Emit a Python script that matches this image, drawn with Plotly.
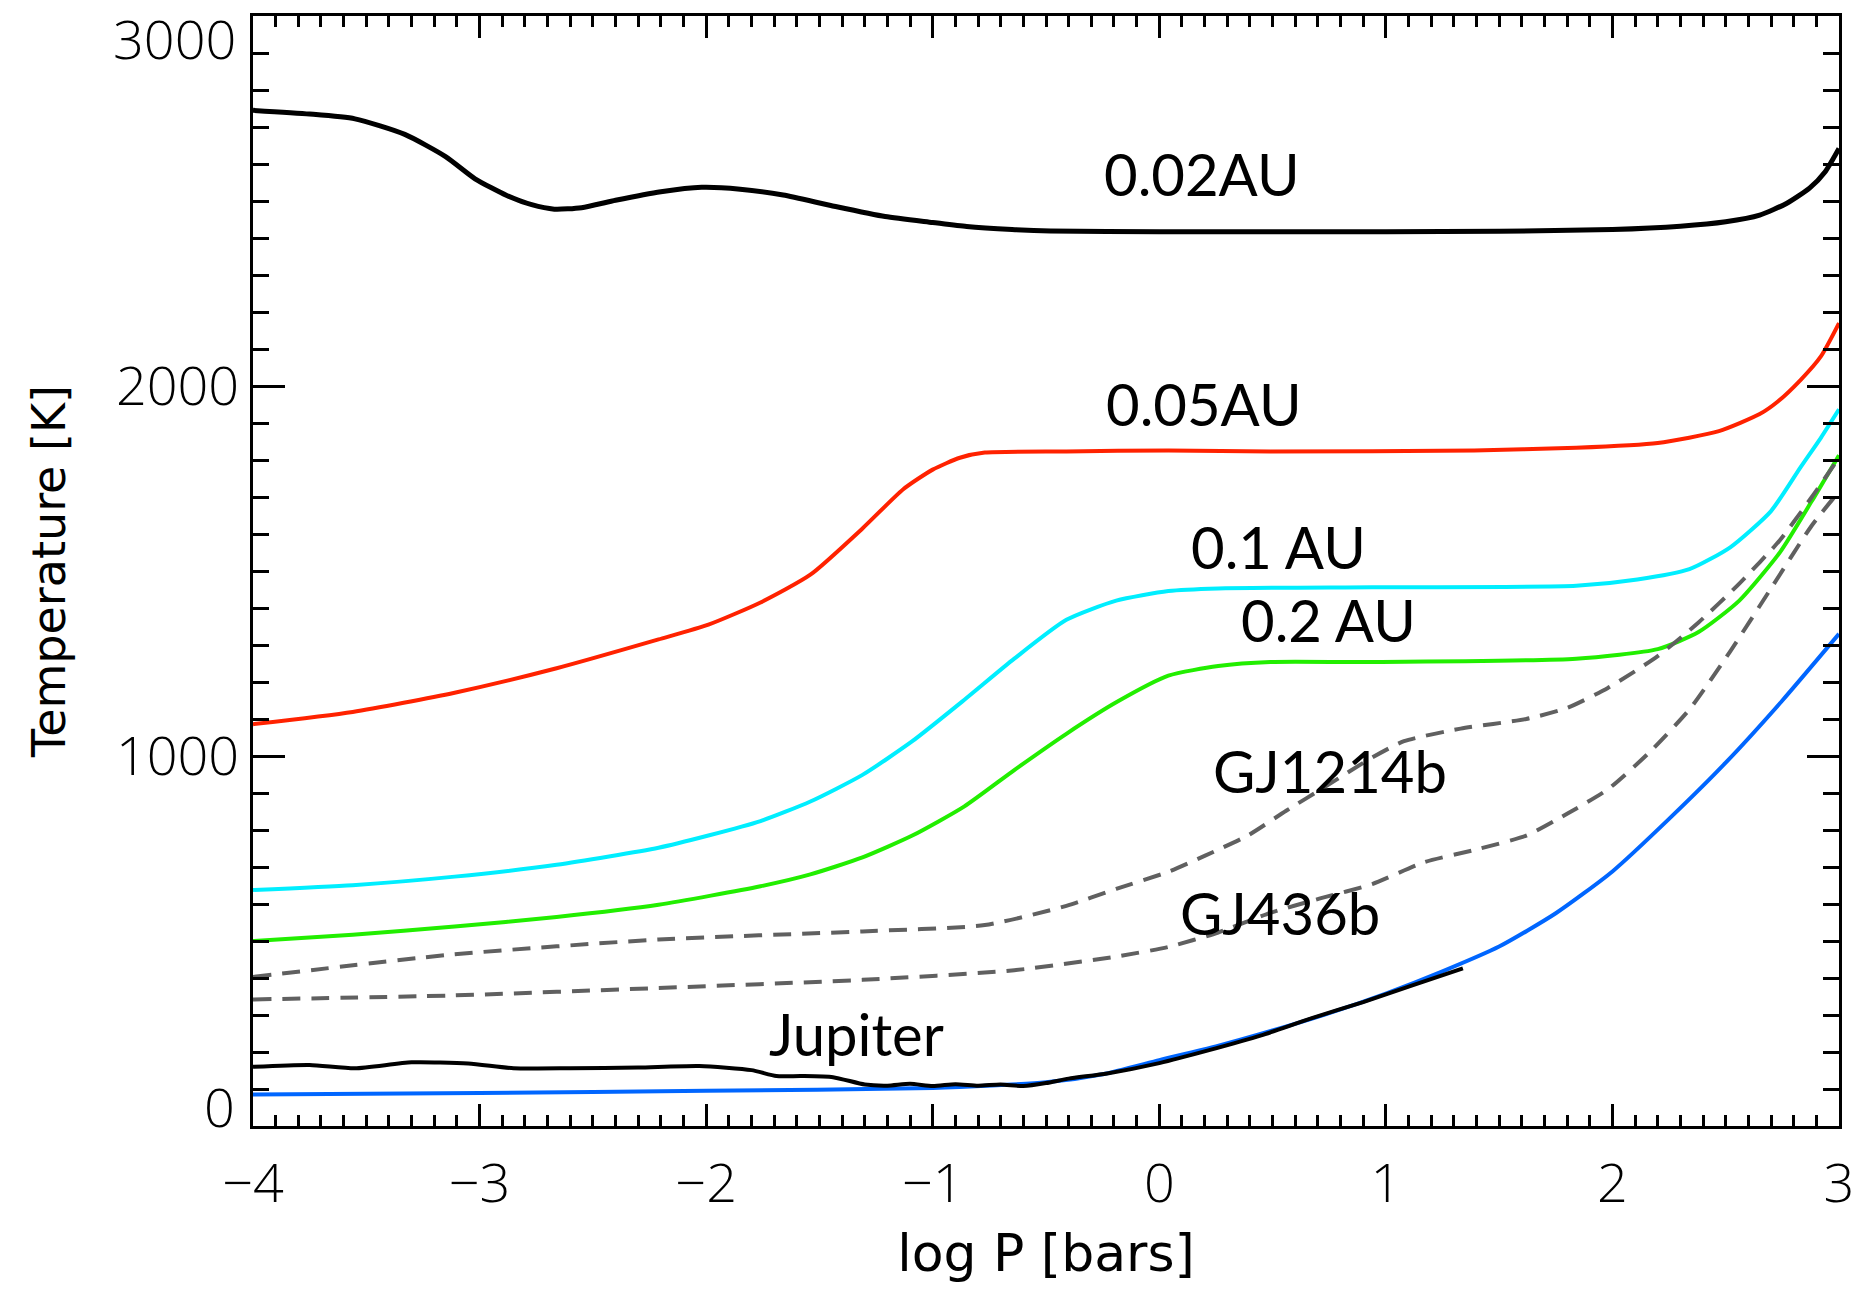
import plotly.graph_objects as go

# ---------------- data (log P [bars] vs Temperature [K]) ----------------
au002_x = [-4, -3.75, -3.55, -3.33, -3.15, -3.02, -2.88, -2.77, -2.67, -2.55, -2.4, -2.2,
           -2.02, -1.85, -1.66, -1.45, -1.21, -1.0, -0.85, -0.65, -0.48, 0, 0.5, 1.0, 1.5,
           2.0, 2.3, 2.5, 2.65, 2.77, 2.87, 2.94, 3.0]
au002_t = [2745, 2735, 2722, 2680, 2620, 2560, 2515, 2490, 2478, 2482, 2502, 2525,
           2537, 2532, 2516, 2488, 2458, 2442, 2431, 2423, 2419, 2417, 2417, 2417, 2418,
           2423, 2432, 2444, 2462, 2494, 2535, 2580, 2642]

au005_x = [-4, -3.56, -3.11, -2.66, -2.21, -1.99, -1.76, -1.54, -1.31, -1.13, -1.0, -0.88,
           -0.77, -0.41, 0.04, 0.49, 1.39, 1.84, 2.2, 2.47, 2.65, 2.73, 2.83, 2.92, 3.0]
au005_t = [1086, 1119, 1171, 1237, 1315, 1355, 1415, 1490, 1615, 1721, 1774, 1806,
           1820, 1823, 1826, 1823, 1826, 1833, 1846, 1878, 1924, 1958, 2016, 2080, 2170]

au01_x = [-4, -3.56, -3.11, -2.66, -2.21, -1.99, -1.76, -1.54, -1.31, -1.09, -0.86, -0.64,
          -0.41, -0.19, 0.04, 0.26, 0.94, 1.84, 2.11, 2.34, 2.52, 2.70, 2.83, 2.92, 3.0]
au01_t = [638, 651, 674, 706, 752, 785, 824, 877, 949, 1040, 1152, 1263,
          1368, 1420, 1446, 1453, 1456, 1460, 1477, 1505, 1564, 1662, 1780, 1860, 1937]

au02_x = [-4, -3.56, -3.11, -2.66, -2.21, -1.76, -1.54, -1.31, -1.09, -0.86, -0.64, -0.41,
          -0.19, 0.04, 0.26, 0.49, 0.94, 1.84, 2.2, 2.38, 2.56, 2.74, 2.88, 3.0]
au02_t = [500, 517, 539, 565, 598, 648, 680, 726, 785, 864, 962, 1060,
          1145, 1217, 1243, 1254, 1254, 1263, 1289, 1335, 1420, 1551, 1689, 1813]

gj1214_x = [-4, -3.11, -2.21, -1.31, -0.77, -0.41, -0.19, 0.04, 0.2, 0.39, 0.56, 0.74,
            0.94, 1.08, 1.33, 1.62, 1.80, 1.98, 2.2, 2.38, 2.56, 2.74, 2.88, 3.0]
gj1214_t = [403, 464, 504, 526, 543, 595, 641, 687, 730, 785, 852, 920,
            996, 1040, 1074, 1100, 1130, 1184, 1270, 1361, 1466, 1584, 1700, 1806]

gj436_x = [-4, -3.11, -2.21, -1.31, -0.64, -0.19, 0.04, 0.26, 0.49, 0.71, 0.94, 1.17,
           1.39, 1.62, 1.80, 1.98, 2.16, 2.34, 2.52, 2.70, 2.88, 3.0]
gj436_t = [342, 353, 373, 395, 421, 458, 484, 523, 576, 615, 654, 713,
           746, 785, 844, 910, 1008, 1126, 1283, 1453, 1623, 1715]

blue_x = [-4, -3, -2, -1, -0.5, -0.25, 0, 0.25, 0.5, 0.75, 1.0, 1.25, 1.5, 1.75,
          2.0, 2.25, 2.5, 2.75, 3.0]
blue_t = [85, 89, 95, 103, 118, 140, 178, 215, 258, 305, 358, 418, 485, 575,
          688, 830, 982, 1150, 1330]

jup_x = [-4, -3.75, -3.55, -3.3, -3.05, -2.85, -2.6, -2.3, -2.03, -1.8, -1.69, -1.58,
         -1.44, -1.3, -1.2, -1.1, -1.0, -0.9, -0.8, -0.7, -0.6, -0.5, -0.4, -0.23, 0.0,
         0.22, 0.45, 0.67, 0.9, 1.12, 1.34]
jup_t = [160, 165, 156, 172, 169, 156, 156, 158, 162, 151, 135, 135,
         132, 112, 109, 114, 108, 113, 109, 112, 108, 116, 128, 142, 170,
         205, 245, 291, 335, 381, 426]

labels = ["0.02AU", "0.05AU", "0.1 AU", "0.2 AU", "GJ1214b", "GJ436b", "Jupiter"]
label_x = [0.188, 0.197, 0.528, 0.748, 0.753, 0.532, -1.335]
label_t = [2573, 1954, 1565, 1368, 962, 578, 251]

x_ticks = [-4, -3, -2, -1, 0, 1, 2, 3]
y_ticks = [0, 1000, 2000, 3000]
y_ticktext = ["", "1000", "2000", ""]

# ---------------- figure ----------------
TICK_FONT = dict(family="Open Sans", size=54, color="black", weight=300)
TITLE_FAMILY = "DejaVu Sans"

fig = go.Figure()
series = [
    (au002_x, au002_t, "#000000", 5, "solid"),
    (au005_x, au005_t, "#ff2200", 4, "solid"),
    (au01_x, au01_t, "#00eeff", 4, "solid"),
    (au02_x, au02_t, "#22ee00", 4, "solid"),
    (gj1214_x, gj1214_t, "#606060", 4, "18px,11px"),
    (gj436_x, gj436_t, "#606060", 4, "18px,11px"),
    (blue_x, blue_t, "#0066ff", 4, "solid"),
    (jup_x, jup_t, "#000000", 4, "solid"),
]
for xs, ts, col, w, dash in series:
    fig.add_trace(go.Scatter(x=xs, y=ts, mode="lines",
                             line=dict(color=col, width=w, dash=dash, shape="spline", smoothing=0.6),
                             showlegend=False, hoverinfo="skip"))

for txt, lx, lt in zip(labels, label_x, label_t):
    fig.add_annotation(x=lx, y=lt, xref="x", yref="y", text=txt, showarrow=False,
                       font=dict(family="Lato", size=58, color="black"),
                       xanchor="center", yanchor="middle")

# end y tick labels shifted inside like the original
fig.add_annotation(x=0, y=0, xref="paper", yref="y", text="0", showarrow=False,
                   xanchor="right", yanchor="middle", xshift=-16, yshift=20,
                   font=TICK_FONT)
fig.add_annotation(x=0, y=3000, xref="paper", yref="y", text="3000", showarrow=False,
                   xanchor="right", yanchor="top", xshift=-16, yshift=16, borderpad=0,
                   font=TICK_FONT)

axis_common = dict(showgrid=False, zeroline=False, showline=True, linecolor="black",
                   linewidth=3, ticks="inside", tickwidth=3, tickcolor="black",
                   mirror="ticks", tickfont=TICK_FONT)

fig.update_xaxes(range=[-4, 3], tickvals=x_ticks, ticklen=22, ticklabelstandoff=8,
                 minor=dict(ticks="inside", ticklen=11, tickwidth=3, dtick=0.1, tick0=-4,
                            tickcolor="black", showgrid=False),
                 title=dict(text="log P [bars]", font=dict(family=TITLE_FAMILY, size=52, color="black"),
                            standoff=18),
                 **axis_common)
fig.update_yaxes(range=[0, 3000], tickvals=y_ticks, ticktext=y_ticktext, ticklen=32,
                 minor=dict(ticks="inside", ticklen=16, tickwidth=3, dtick=100, tick0=0,
                            tickcolor="black", showgrid=False),
                 title=dict(text="Temperature [K]", font=dict(family=TITLE_FAMILY, size=46, color="black"),
                            standoff=36),
                 **axis_common)

fig.update_layout(width=1867, height=1290, paper_bgcolor="white", plot_bgcolor="white",
                  margin=dict(l=253, r=28, t=16, b=164, autoexpand=False))

fig.write_html("out.html")
